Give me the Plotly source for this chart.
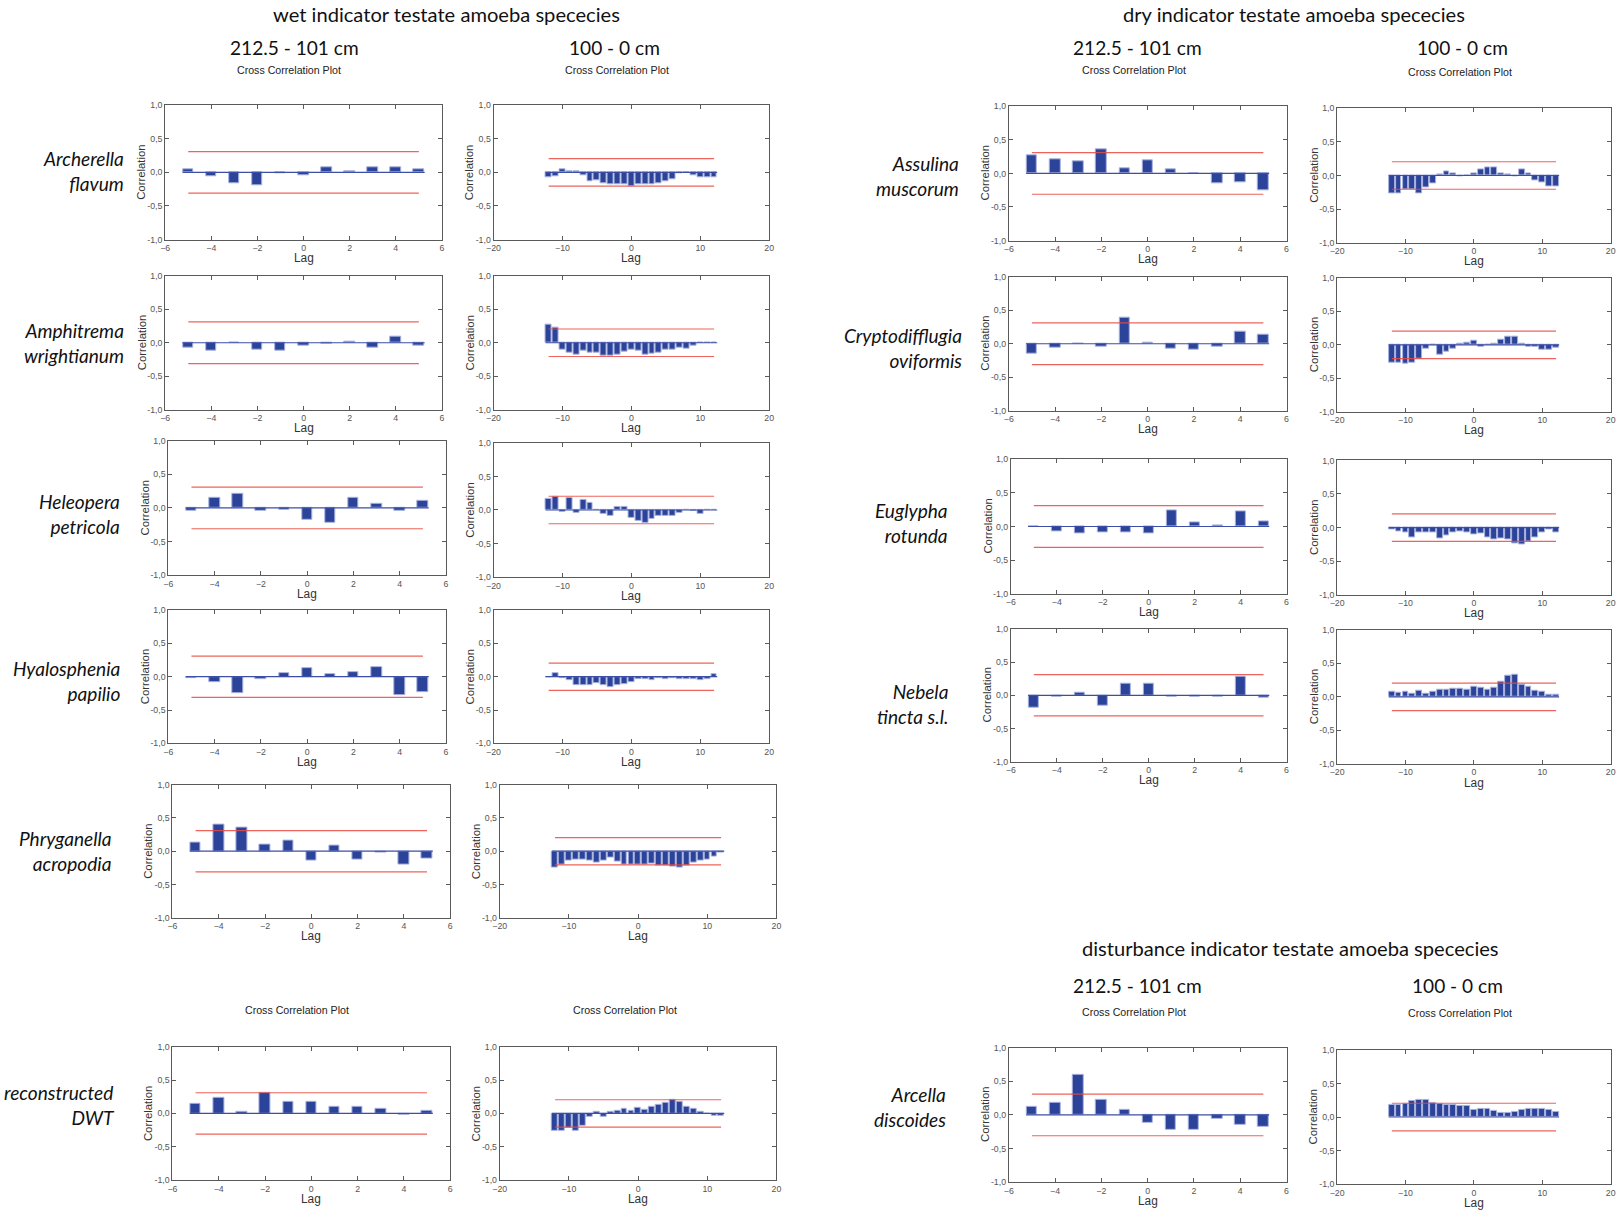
import plotly.graph_objects as go

# ---------------- data ----------------
lags_old = list(range(-5, 6))
lags_new = list(range(-12, 13))
conf_old = 0.31
conf_new = 0.205

archerella_old = [0.045, -0.06, -0.16, -0.19, -0.02, -0.05, 0.08, 0.02, 0.07, 0.07, 0.05]
archerella_new = [-0.07, -0.06, 0.04, 0.01, 0.02, -0.05, -0.13, -0.12, -0.16, -0.18, -0.17, -0.17, -0.20,
                  -0.18, -0.17, -0.17, -0.16, -0.13, -0.10, -0.02, 0.0, -0.05, -0.07, -0.08, -0.07]
amphitrema_old = [-0.08, -0.12, -0.005, -0.10, -0.12, -0.04, -0.015, 0.015, -0.08, 0.09, -0.05]
amphitrema_new = [0.27, 0.23, -0.10, -0.14, -0.17, -0.12, -0.15, -0.15, -0.19, -0.19, -0.17, -0.13, -0.11,
                  -0.12, -0.17, -0.16, -0.14, -0.11, -0.10, -0.08, -0.09, -0.05, 0.0, 0.0, 0.0]
heleopera_old = [-0.05, 0.155, 0.215, -0.05, -0.03, -0.175, -0.22, 0.145, 0.06, -0.04, 0.105]
heleopera_new = [0.16, 0.20, -0.025, 0.175, -0.045, 0.155, 0.11, -0.005, -0.055, -0.085, 0.045, 0.045, -0.12,
                 -0.155, -0.195, -0.135, -0.095, -0.095, -0.09, -0.04, -0.005, -0.015, -0.06, 0.0, 0.005]
hyalosphenia_old = [-0.015, -0.08, -0.245, -0.035, 0.055, 0.13, 0.045, 0.065, 0.14, -0.275, -0.235]
hyalosphenia_new = [0.0, 0.05, -0.025, -0.045, -0.13, -0.125, -0.125, -0.10, -0.13, -0.155, -0.13, -0.11, -0.08,
                    -0.03, -0.03, -0.05, -0.025, -0.03, -0.025, -0.03, -0.03, -0.03, -0.055, -0.03, 0.045]
phryganella_old = [0.135, 0.405, 0.355, 0.105, 0.16, -0.135, 0.085, -0.125, -0.025, -0.205, -0.115]
phryganella_new = [-0.24, -0.20, -0.14, -0.125, -0.125, -0.135, -0.165, -0.14, -0.095, -0.15, -0.20, -0.20, -0.20,
                   -0.20, -0.19, -0.22, -0.22, -0.235, -0.24, -0.21, -0.175, -0.14, -0.13, -0.075, -0.015]
dwt_old = [0.14, 0.23, 0.02, 0.315, 0.175, 0.175, 0.095, 0.095, 0.065, -0.025, 0.035]
dwt_new = [-0.265, -0.265, -0.21, -0.255, -0.18, -0.045, 0.03, -0.05, 0.02, 0.035, 0.065, 0.035, 0.08,
           0.055, 0.105, 0.125, 0.16, 0.20, 0.17, 0.105, 0.075, 0.02, 0.0, -0.035, -0.035]
assulina_old = [0.27, 0.21, 0.175, 0.36, 0.075, 0.20, 0.065, 0.0, -0.145, -0.13, -0.25]
assulina_new = [-0.26, -0.26, -0.20, -0.20, -0.26, -0.175, -0.125, 0.015, 0.06, 0.035, -0.02, 0.0, 0.025,
                0.085, 0.125, 0.115, 0.035, 0.015, -0.02, 0.085, 0.03, -0.08, -0.11, -0.16, -0.16]
crypto_old = [-0.15, -0.065, 0.0, -0.045, 0.39, 0.02, -0.075, -0.095, -0.045, 0.175, 0.14]
crypto_new = [-0.27, -0.27, -0.285, -0.27, -0.20, -0.065, 0.0, -0.145, -0.105, -0.06, 0.02, 0.035, 0.06,
              -0.025, 0.0, 0.02, 0.07, 0.12, 0.12, 0.02, -0.035, -0.035, -0.075, -0.08, -0.05]
euglypha_old = [0.0, -0.075, -0.11, -0.09, -0.09, -0.11, 0.235, 0.055, 0.015, 0.225, 0.08]
euglypha_new = [-0.025, -0.055, -0.08, -0.14, -0.08, -0.08, -0.075, -0.155, -0.125, -0.07, -0.065, -0.075, -0.105,
                -0.095, -0.145, -0.17, -0.165, -0.175, -0.24, -0.25, -0.20, -0.15, -0.075, -0.03, -0.08]
nebela_old = [-0.185, -0.015, 0.035, -0.15, 0.175, 0.18, -0.02, -0.025, -0.015, 0.28, -0.03]
nebela_new = [0.08, 0.065, 0.07, 0.04, 0.095, 0.04, 0.08, 0.105, 0.105, 0.12, 0.12, 0.105, 0.155,
              0.14, 0.11, 0.14, 0.225, 0.32, 0.325, 0.175, 0.155, 0.095, 0.07, 0.035, 0.035]
arcella_old = [0.12, 0.18, 0.595, 0.23, 0.08, -0.12, -0.22, -0.22, -0.055, -0.145, -0.175]
arcella_new = [0.175, 0.175, 0.20, 0.24, 0.25, 0.25, 0.21, 0.19, 0.185, 0.18, 0.16, 0.165, 0.105,
               0.115, 0.115, 0.09, 0.065, 0.065, 0.075, 0.10, 0.125, 0.125, 0.115, 0.105, 0.08]

species_labels = ["Archerella<br>flavum", "Amphitrema<br>wrightianum", "Heleopera<br>petricola",
                  "Hyalosphenia<br>papilio", "Phryganella<br>acropodia", "reconstructed<br>DWT",
                  "Assulina<br>muscorum", "Cryptodifflugia<br>oviformis", "Euglypha<br>rotunda",
                  "Nebela<br>tincta s.l.", "Arcella<br>discoides"]
old_series = [archerella_old, amphitrema_old, heleopera_old, hyalosphenia_old, phryganella_old, dwt_old,
              assulina_old, crypto_old, euglypha_old, nebela_old, arcella_old]
new_series = [archerella_new, amphitrema_new, heleopera_new, hyalosphenia_new, phryganella_new, dwt_new,
              assulina_new, crypto_new, euglypha_new, nebela_new, arcella_new]

y_tickvals = [-1.0, -0.5, 0.0, 0.5, 1.0]
y_ticktext = ["-1,0", "-0,5", "0,0", "0,5", "1,0"]
x_old_ticks = [-6, -4, -2, 0, 2, 4, 6]
x_new_ticks = [-20, -10, 0, 10, 20]

# ---------------- layout geometry (reference pixel space) ----------------
W, H = 1568.0, 1174.0
S = 1619.0 / W

# (left x0,x1,ytop,ybot), (right x0,x1,ytop,ybot), label x, label y
boxes = [
    ((160, 428, 102, 232), (478, 745, 102, 232), 122, 166),
    ((160, 428, 267, 397), (478, 745, 267, 397), 122, 332),
    ((163, 432, 427, 557), (478, 745, 429, 559), 118, 498),
    ((163, 432, 591, 720), (478, 745, 591, 720), 118, 660),
    ((167, 436, 760, 889), (484, 752, 760, 889), 110, 824),
    ((167, 436, 1014, 1143), (484, 752, 1014, 1143), 113, 1070),
    ((977, 1246, 103, 233), (1295, 1560, 105, 235), 931, 170),
    ((977, 1246, 268, 398), (1295, 1560, 269, 399), 934, 337),
    ((979, 1246, 445, 575), (1295, 1560, 446, 576), 920, 507),
    ((979, 1246, 609, 738), (1295, 1560, 610, 740), 920, 682),
    ((977, 1246, 1015, 1145), (1295, 1560, 1017, 1147), 918, 1072),
]


def fx(px):
    return px / W


def fy(py):
    return 1.0 - py / H


fig = go.Figure()
layout = {}
annotations = []

BAR_COLOR = "#2b4399"
BAR_LINE = "#a9b2de"
ZERO_COLOR = "#3c4ea6"
RED = "#ec4a40"
AXIS_COLOR = "#5a5a5a"
TICK_FONT = dict(family="Liberation Sans, Arial", size=8.5 * S, color="#555555")

ax = 0
for i, (lb, rb, lab_x, lab_y) in enumerate(boxes):
    for side, box in (("old", lb), ("new", rb)):
        ax += 1
        xa = "x" if ax == 1 else f"x{ax}"
        ya = "y" if ax == 1 else f"y{ax}"
        if side == "old":
            lags, vals, conf = lags_old, old_series[i], conf_old
            xr, bw, xt, half = [-6, 6], 0.45, x_old_ticks, 5.25
        else:
            lags, vals, conf = lags_new, new_series[i], conf_new
            xr, bw, xt, half = [-20, 20], 0.85, x_new_ticks, 12.45
        x0, x1, yt, yb = box
        fig.add_trace(go.Bar(x=lags, y=vals, width=bw, xaxis=xa, yaxis=ya,
                             marker=dict(color=BAR_COLOR, line=dict(color=BAR_LINE, width=1)),
                             showlegend=False))
        fig.add_trace(go.Scatter(x=[-half, half], y=[0, 0], mode="lines", xaxis=xa, yaxis=ya,
                                 line=dict(color=ZERO_COLOR, width=1.2), showlegend=False))
        for sgn in (1, -1):
            fig.add_trace(go.Scatter(x=[lags[0], lags[-1]], y=[sgn * conf, sgn * conf], mode="lines",
                                     xaxis=xa, yaxis=ya, line=dict(color=RED, width=1.2),
                                     opacity=0.85, showlegend=False))
        kx = "xaxis" if ax == 1 else f"xaxis{ax}"
        ky = "yaxis" if ax == 1 else f"yaxis{ax}"
        layout[kx] = dict(domain=[fx(x0), fx(x1)], range=xr, anchor=ya, tickvals=xt,
                          ticks="inside", ticklen=4, tickcolor=AXIS_COLOR, showline=True,
                          linecolor=AXIS_COLOR, linewidth=1, mirror="ticks", showgrid=False,
                          zeroline=False, tickfont=TICK_FONT, automargin=False)
        layout[ky] = dict(domain=[fy(yb), fy(yt)], range=[-1, 1], anchor=xa, tickvals=y_tickvals,
                          ticktext=y_ticktext, ticks="inside", ticklen=4, tickcolor=AXIS_COLOR,
                          showline=True, linecolor=AXIS_COLOR, linewidth=1, mirror="ticks",
                          showgrid=False, zeroline=False, tickfont=TICK_FONT, automargin=False)
        annotations.append(dict(text="Lag", x=fx((x0 + x1) / 2), y=fy(yb + 18), xref="paper", yref="paper",
                                showarrow=False, xanchor="center", yanchor="middle",
                                font=dict(family="Liberation Sans, Arial", size=11.5 * S, color="#333")))
        annotations.append(dict(text="Correlation", x=fx(x0 - 23), y=fy((yt + yb) / 2), xref="paper",
                                yref="paper", showarrow=False, textangle=-90, xanchor="center",
                                yanchor="middle",
                                font=dict(family="Liberation Sans, Arial", size=11 * S, color="#333")))
    annotations.append(dict(text=f"<i>{species_labels[i]}</i>", x=fx(lab_x), y=fy(lab_y), xref="paper",
                            yref="paper", showarrow=False, xanchor="right", yanchor="middle", align="right",
                            font=dict(family="Lato", size=18.5 * S, color="#111")))

TITLE_FONT = dict(family="Lato", size=19.5 * S, color="#111")
RANGE_FONT = dict(family="Lato", size=18.5 * S, color="#111")
SMALL_FONT = dict(family="Liberation Sans, Arial", size=10.3 * S, color="#222")

# top group titles sit against the top edge
top_titles = [("wet indicator testate amoeba spececies", 432),
              ("dry indicator testate amoeba spececies", 1253)]
for text, px in top_titles:
    annotations.append(dict(text=text, x=fx(px), y=1.0, xref="paper", yref="paper", showarrow=False,
                            xanchor="center", yanchor="top", font=TITLE_FONT))

headings = [
    ("disturbance indicator testate amoeba spececies", 1250, 918, TITLE_FONT),
    ("212.5 - 101 cm", 285, 46, RANGE_FONT), ("100 - 0 cm", 595, 46, RANGE_FONT),
    ("212.5 - 101 cm", 1102, 46, RANGE_FONT), ("100 - 0 cm", 1416, 46, RANGE_FONT),
    ("212.5 - 101 cm", 1102, 955, RANGE_FONT), ("100 - 0 cm", 1412, 955, RANGE_FONT),
    ("Cross Correlation Plot", 280, 68, SMALL_FONT), ("Cross Correlation Plot", 598, 68, SMALL_FONT),
    ("Cross Correlation Plot", 1098, 68, SMALL_FONT), ("Cross Correlation Plot", 1414, 70, SMALL_FONT),
    ("Cross Correlation Plot", 288, 978, SMALL_FONT), ("Cross Correlation Plot", 605, 978, SMALL_FONT),
    ("Cross Correlation Plot", 1098, 980, SMALL_FONT), ("Cross Correlation Plot", 1414, 981, SMALL_FONT),
]
for text, px, py, font in headings:
    annotations.append(dict(text=text, x=fx(px), y=fy(py), xref="paper", yref="paper", showarrow=False,
                            xanchor="center", yanchor="middle", font=font))

fig.update_layout(width=1619, height=1212, margin=dict(l=0, r=0, t=0, b=0),
                  paper_bgcolor="white", plot_bgcolor="white", bargap=0,
                  annotations=annotations, showlegend=False, **layout)

# remove the default page margin so the figure sits at the window's top-left corner
fig.write_html("out.html", config={"displayModeBar": False},
               post_script="document.body.style.margin='0';document.documentElement.style.overflow='hidden';")
